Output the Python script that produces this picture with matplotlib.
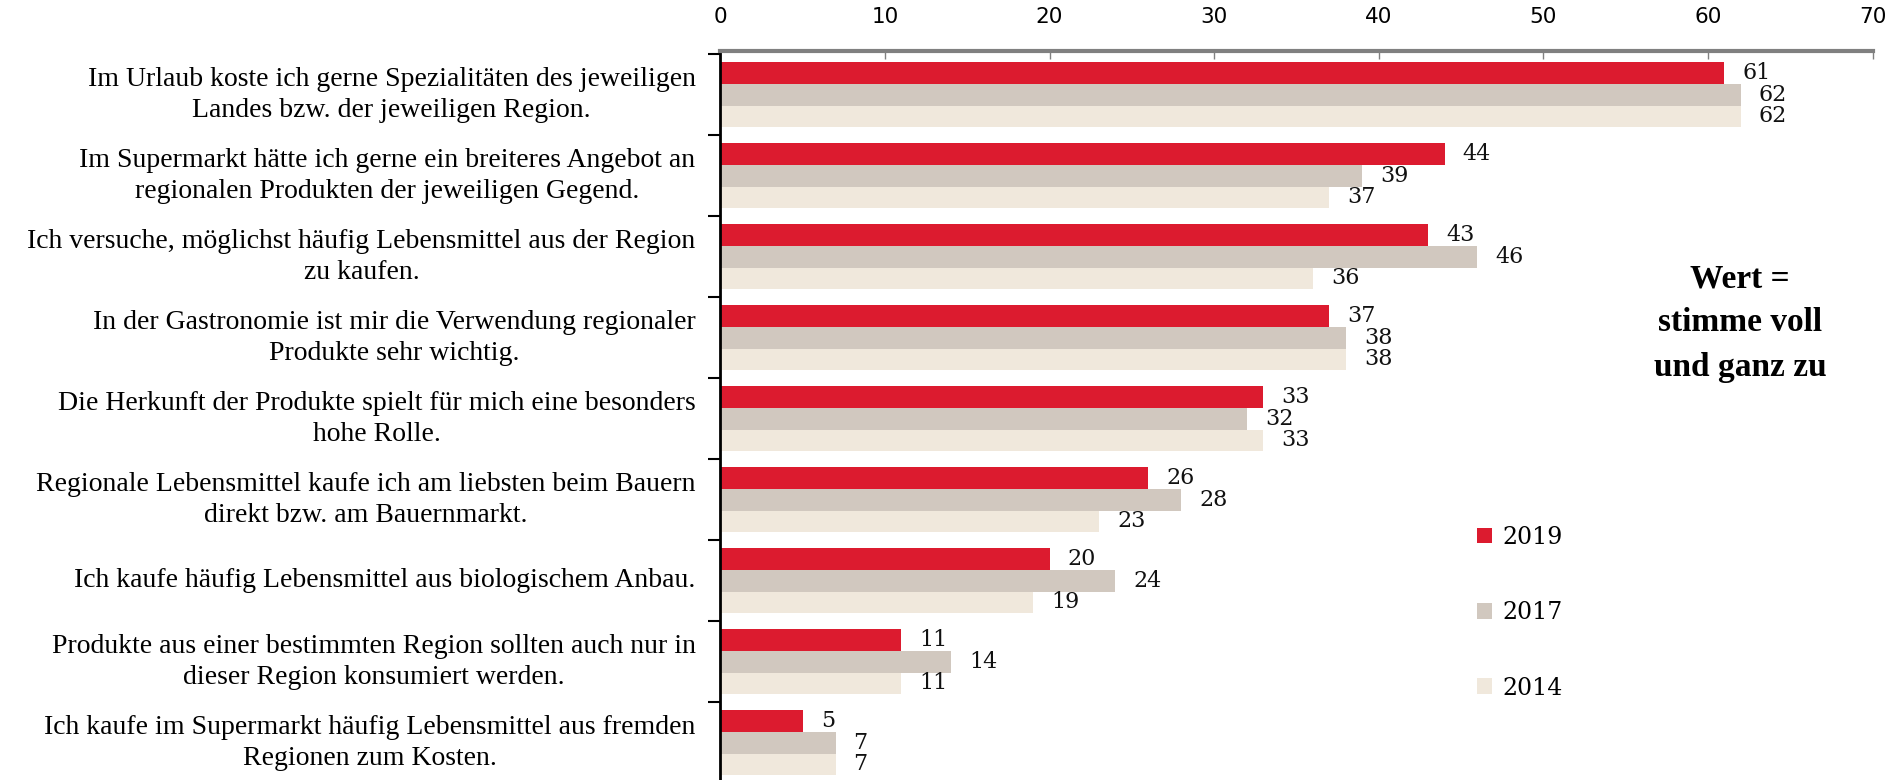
import numpy as np
import matplotlib.pyplot as plt
from matplotlib.ticker import FixedLocator

categories = [
    "Im Urlaub koste ich gerne Spezialitäten des jeweiligen\nLandes bzw. der jeweiligen Region.",
    "Im Supermarkt hätte ich gerne ein breiteres Angebot an\nregionalen Produkten der jeweiligen Gegend.",
    "Ich versuche, möglichst häufig Lebensmittel aus der Region\nzu kaufen.",
    "In der Gastronomie ist mir die Verwendung regionaler\nProdukte sehr wichtig.",
    "Die Herkunft der Produkte spielt für mich eine besonders\nhohe Rolle.",
    "Regionale Lebensmittel kaufe ich am liebsten beim Bauern\ndirekt bzw. am Bauernmarkt.",
    "Ich kaufe häufig Lebensmittel aus biologischem Anbau.",
    "Produkte aus einer bestimmten Region sollten auch nur in\ndieser Region konsumiert werden.",
    "Ich kaufe im Supermarkt häufig Lebensmittel aus fremden\nRegionen zum Kosten.",
]
years = ["2019", "2017", "2014"]
v2019 = [61, 44, 43, 37, 33, 26, 20, 11, 5]
v2017 = [62, 39, 46, 38, 32, 28, 24, 14, 7]
v2014 = [62, 37, 36, 38, 33, 23, 19, 11, 7]
colors = ["#DC1B2F", "#D1C8BF", "#F0E8DC"]

serif = ["Liberation Serif", "DejaVu Serif"]
numfont = ["DejaVu Serif"]

fig = plt.figure(figsize=(19.03, 7.8), dpi=100)
ax = fig.add_axes([0.3785, 0.0, 0.6055, 0.9346])

y = np.arange(len(categories))
h = 0.268
for i, (vals, c, lab) in enumerate(zip([v2019, v2017, v2014], colors, years)):
    pos = y + (i - 1) * h
    ax.barh(pos, vals, height=h, color=c, label=lab, edgecolor="none")
    for p, v in zip(pos, vals):
        ax.text(v + 1.1, p, str(v), va="center", ha="left",
                fontsize=16, family=numfont, color="#111111")

ax.set_xlim(0, 70)
ax.set_ylim(8.46, -0.54)
ax.xaxis.tick_top()
ax.set_xticks(range(0, 71, 10))
ax.tick_params(axis="x", direction="in", length=6, width=1, color="#808080",
               labelsize=15.5, pad=17)
for t in ax.get_xticklabels():
    t.set_family(["Liberation Sans Narrow", "DejaVu Sans"])

ax.set_yticks([])
ax.yaxis.set_minor_locator(FixedLocator(np.arange(-0.5, 8.5, 1)))
ax.tick_params(axis="y", which="minor", direction="out", length=9, width=1.5, color="black")

for s in ["right", "bottom"]:
    ax.spines[s].set_visible(False)
ax.spines["top"].set_color("#808080")
ax.spines["top"].set_linewidth(3)
ax.spines["left"].set_color("black")
ax.spines["left"].set_linewidth(2)

for yi, cat in zip(y, categories):
    ax.text(-1.5, yi, cat, ha="right", va="center", multialignment="center",
            fontsize=20, family=serif, linespacing=1.3)

ax.text(0.885, 0.627, "Wert =\nstimme voll\nund ganz zu", transform=ax.transAxes,
        ha="center", va="center", fontsize=24, fontweight="bold", family=serif,
        linespacing=1.55)

ax.legend(loc="upper left", bbox_to_anchor=(0.638, 0.378), frameon=False,
          prop={"family": numfont, "size": 17}, handlelength=0.65, handleheight=0.65,
          handletextpad=0.45, labelspacing=2.22)

fig.savefig("out.png", dpi=100)
